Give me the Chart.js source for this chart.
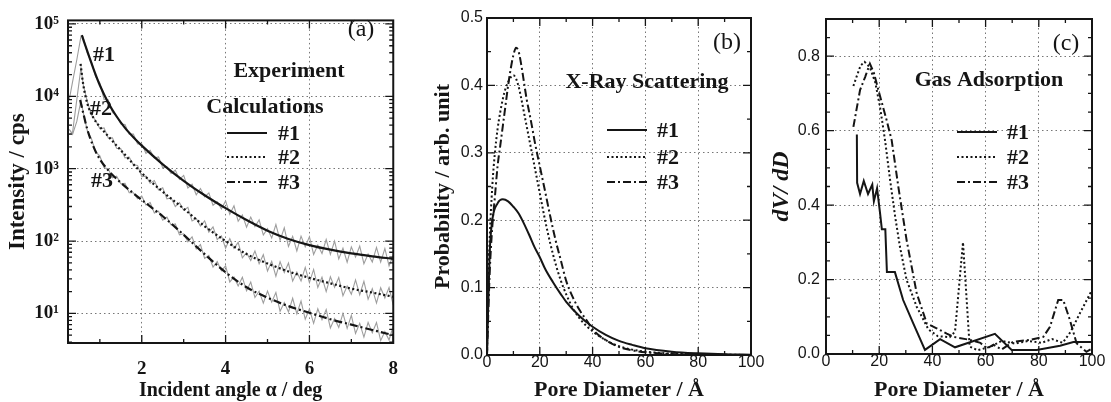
<!DOCTYPE html>
<html>
<head>
<meta charset="utf-8">
<script src="https://cdn.jsdelivr.net/npm/chart.js@4.4.1/dist/chart.umd.min.js"></script>
<style>
  body { margin: 0; background: #fff; }
  #wrap { position: relative; width: 1111px; height: 402px; overflow: hidden; background: #fff; }
  canvas { position: absolute; top: 0; }
</style>
</head>
<body>
<div id="wrap">
  <canvas id="chartA" width="413" height="402" style="left:0"></canvas>
  <canvas id="chartB" width="361" height="402" style="left:405px"></canvas>
  <canvas id="chartC" width="345" height="402" style="left:766px"></canvas>
</div>
<script>
// ---------- (a) X-ray reflectivity ----------
const expAngle = [0.27,0.35,0.45,0.55,0.6,0.7,0.8,0.9,1.0,1.1,1.2,1.3,1.4,1.5,1.6,1.7,1.8,1.9,2.0,2.1,2.2,2.3,2.4,2.5,2.6,2.7,2.8,2.9,3.0,3.1,3.2,3.3,3.4,3.5,3.6,3.7,3.8,3.9,4.0,4.1,4.2,4.3,4.4,4.5,4.6,4.7,4.8,4.9,5.0,5.1,5.2,5.3,5.4,5.5,5.6,5.7,5.8,5.9,6.0,6.1,6.2,6.3,6.4,6.5,6.6,6.7,6.8,6.9,7.0,7.1,7.2,7.3,7.4,7.5,7.6,7.7,7.8,7.9,8.0];
const exp1 = [9000,16000,32000,68000,66700,39700,29600,18700,15300,9060,8950,5970,5370,4140,4070,3000,3020,2190,2190,1630,1790,1400,1450,1030,1060,862,953,711,808,542,609,436,532,409,463,312,348,279,359,235,307,188,230,155,214,159,196,121,148,110,169,102,152,84,116,73,117,83.5,115,65.3,88,67.3,105,65.4,99.8,56.7,79.5,51.1,83.2,60.3,85.1,48.7,66.4,51.4,81.6,51.2,78.9,45.3,64];
const exp2 = [3000,3200,9000,25000,14700,8500,5500,4620,3570,3660,2660,2680,1920,1880,1410,1450,1130,1110,776,790,630,687,507,545,384,395,300,339,266,292,190,205,161,190,133,157,105,118,79.4,108,79.3,95.9,58.5,69.1,54,73,48.6,64.8,38.6,52.4,32.6,51.8,36.6,49.7,27.9,37.2,28,43.2,26.7,40.5,22.8,31.6,20,32.1,22.9,31.4,17.6,23.9,18.4,29,18.1,27.7,15.7,21.9,13.9,22.6,16.3,22.8,13];
const exp3 = [3500,3000,4500,8800,6080,3360,2590,1690,1500,1040,990,749,785,620,626,465,465,385,420,315,340,244,258,194,214,167,172,122,126,97.4,114,77.9,89.2,57.5,63.2,43.7,51.9,39,45.5,27.2,31.9,24,31.5,20.5,27.1,16.6,20.3,13.9,20.3,14.3,19.4,10.7,14.1,10.5,16.2,9.9,14.8,8.3,11.5,7.3,11.6,8.2,11.3,6.3,8.5,6.4,10,6.2,9.4,5.3,7.3,4.7,7.5,5.4,7.5,4.2,5.6,4.3,6.7];
const calcX1 = [0.57,0.7,0.85,1.0,1.2,1.4,1.6,1.8,2.0,2.5,3.0,3.5,4.0,4.5,5.0,5.5,6.0,6.5,7.0,7.5,8.0];
const calcY1 = [70000,42000,23800,14200,8150,5260,3670,2720,2080,1150,680,430,285,195,139,107,88,76,67.5,61.5,56.8];
const calcX2 = [0.54,0.6,0.7,0.85,1.0,1.2,1.5,2.0,2.5,3.0,3.5,4.0,4.5,5.0,5.5,6.0,6.5,7.0,7.5,8.0];
const calcY2 = [28000,15000,8000,5000,3800,2800,1800,870,480,280,160,100,66,49,38,31,26,22,19.4,17];
const calcX3 = [0.53,0.6,0.7,0.85,1.0,1.2,1.5,2.0,2.5,3.0,3.5,4.0,4.5,5.0,5.5,6.0,6.5,7.0,7.5,8.0];
const calcY3 = [8900,6000,3500,2000,1350,950,640,370,220,122,66,37,23,16.5,12.6,10.2,8.3,7.0,5.9,5.0];
const aXTicks = [2,4,6,8];
const aXMinor = [1,3,5,7];
const aYTicks = [10,100,1000,10000,100000];
const aYLabels = ['10¹','10²','10³','10⁴','10⁵'];
const aYMinor = [4,5,6,7,8,9,20,30,40,50,60,70,80,90,200,300,400,500,600,700,800,900,2000,3000,4000,5000,6000,7000,8000,9000,20000,30000,40000,50000,60000,70000,80000,90000];

// ---------- (b) X-ray scattering pore size ----------
const bX1 = [0,1,2,4,6,8,10,12,14,16,18,20,22,25,28,30,35,40,45,50,55,60,70,80,90,100];
const bY1 = [0,0.15,0.2,0.225,0.231,0.228,0.22,0.21,0.195,0.178,0.16,0.145,0.128,0.108,0.09,0.079,0.058,0.042,0.03,0.021,0.015,0.01,0.005,0.0025,0.001,0.0005];
const bX2 = [0,0.5,1,2,3,4,5,6,7,8,9,10,11,12,13,14,15,16,17,18,20,22,24,26,28,30,33,36,40,45,50,55,60,70,80,100];
const bY2 = [0,0.1,0.17,0.25,0.3,0.335,0.36,0.38,0.395,0.405,0.412,0.415,0.41,0.398,0.38,0.36,0.34,0.32,0.3,0.28,0.24,0.2,0.165,0.135,0.11,0.09,0.066,0.05,0.035,0.022,0.013,0.008,0.005,0.002,0.001,0];
const bX3 = [0,1,2,3,4,5,6,7,8,9,10,11,12,13,14,15,16,17,18,20,22,24,26,28,30,32,35,38,40,45,50,55,60,70,80,100];
const bY3 = [0,0.12,0.19,0.235,0.28,0.31,0.34,0.37,0.4,0.425,0.445,0.456,0.45,0.43,0.405,0.38,0.36,0.34,0.318,0.28,0.243,0.205,0.17,0.14,0.11,0.09,0.067,0.05,0.038,0.022,0.012,0.007,0.004,0.0015,0.0006,0];
const bXTicks = [0,20,40,60,80,100];
const bXMinor = [10,30,50,70,90];
const bYTicks = [0,0.1,0.2,0.3,0.4,0.5];
const bYMinor = [0.05,0.15,0.25,0.35,0.45];

// ---------- (c) gas adsorption ----------
const cX1 = [11.6,11.7,12.8,14.2,15.8,17.4,18.0,19.2,20.3,21.0,22.3,22.9,25.9,29.0,32.8,37.2,42.9,48.5,63.5,69.8,79.2,88,93,100];
const cY1 = [0.59,0.46,0.43,0.465,0.43,0.455,0.41,0.445,0.38,0.335,0.335,0.22,0.22,0.145,0.082,0.011,0.04,0.018,0.054,0.011,0.011,0.022,0.032,0.032];
const cX2 = [10.3,11.5,13.0,14.5,16.5,18.5,20.3,22.2,24.1,26.0,27.8,30.3,34.1,38.5,42,46.5,48.5,51.5,54,57,62,66,71,76,81,85,89,92,95.5,100];
const cY2 = [0.72,0.745,0.775,0.785,0.77,0.73,0.664,0.574,0.467,0.369,0.288,0.199,0.127,0.066,0.048,0.045,0.06,0.30,0.02,0.01,0.02,0.035,0.028,0.035,0.03,0.04,0.03,0.06,0.11,0.172];
const cX3 = [10.3,11.3,12.8,14.7,16.5,18.0,19.7,22.8,24.7,27.2,30.3,34.1,37.9,41.6,45.4,48,54,58,60.5,63,66,70.4,76.7,81.7,84.2,87.3,89.2,91.7,94.2,97.9,100];
const cY3 = [0.61,0.65,0.709,0.744,0.78,0.755,0.709,0.628,0.574,0.449,0.306,0.163,0.082,0.069,0.055,0.046,0.038,0.03,0.015,0.025,0.012,0.033,0.038,0.046,0.073,0.145,0.145,0.091,0.029,0.006,0.015];
const cXTicks = [0,20,40,60,80,100];
const cXMinor = [10,30,50,70,90];
const cYTicks = [0,0.2,0.4,0.6,0.8];
const cYMinor = [0.05,0.1,0.15,0.25,0.3,0.35,0.45,0.5,0.55,0.65,0.7,0.75,0.85];

const SERIF = "'Liberation Serif', 'Times New Roman', serif";
const SANS = "'Liberation Sans', Arial, sans-serif";
const INK = '#151515';
const DOT = [2, 2.5];
const DASHDOT = [8, 3, 2, 3];

const toXY = (xs, ys) => xs.map((x, i) => ({ x: x, y: ys[i] }));

// frame, inward tick marks, labels and key, drawn on top of each chart
function makeFrame(o) {
  return {
    id: 'frame',
    afterDraw(chart) {
      const ctx = chart.ctx;
      const a = chart.chartArea;
      const sx = chart.scales.x, sy = chart.scales.y;
      ctx.save();
      ctx.setLineDash([]);
      ctx.strokeStyle = INK;
      ctx.lineWidth = 2;
      ctx.strokeRect(a.left, a.top, a.right - a.left, a.bottom - a.top);
      ctx.lineWidth = 1.3;
      ctx.beginPath();
      const put = (vals, len, horiz) => vals.forEach(v => {
        if (horiz) {
          const p = sx.getPixelForValue(v);
          ctx.moveTo(p, a.bottom); ctx.lineTo(p, a.bottom - len);
          ctx.moveTo(p, a.top); ctx.lineTo(p, a.top + len);
        } else {
          const p = sy.getPixelForValue(v);
          ctx.moveTo(a.left, p); ctx.lineTo(a.left + len, p);
          ctx.moveTo(a.right, p); ctx.lineTo(a.right - len, p);
        }
      });
      put(o.xMajor, 8, true); put(o.xMinor, 4, true);
      put(o.yMajor, 8, false); put(o.yMinor, 4, false);
      ctx.stroke();

      ctx.fillStyle = INK;
      ctx.textBaseline = 'middle';
      o.notes.forEach(n => {
        ctx.font = n.font;
        ctx.textAlign = 'center';
        ctx.fillText(n.text, n.x, n.y);
      });
      o.keys.forEach(k => {
        ctx.beginPath();
        ctx.setLineDash(k.dash);
        ctx.lineWidth = 2;
        ctx.moveTo(k.x0, k.y); ctx.lineTo(k.x1, k.y);
        ctx.stroke();
        ctx.setLineDash([]);
        ctx.font = k.font;
        ctx.textAlign = 'left';
        ctx.fillText(k.label, k.lx, k.y + 1);
      });
      ctx.restore();
    }
  };
}

function gridOpts() {
  return { drawTicks: false, color: '#666', lineWidth: 0.9 };
}

function fixedTicks(list) {
  return function (scale) {
    scale.ticks = list.map(v => ({ value: v }));
  };
}

function baseOptions() {
  return {
    responsive: false,
    animation: false,
    events: [],
    plugins: { legend: { display: false }, tooltip: { enabled: false } }
  };
}

const calcStyle = { showLine: true, pointRadius: 0, borderColor: INK, borderWidth: 2.2, cubicInterpolationMode: 'monotone', fill: false };
const expStyle = { showLine: true, pointRadius: 0, borderColor: '#9d9d9d', borderWidth: 1.1, tension: 0, fill: false };
const plainStyle = { showLine: true, pointRadius: 0, borderColor: INK, borderWidth: 2, fill: false };

const fb = 'bold 22px ' + SERIF;
const fp = '24px ' + SERIF;

// ---------- chart (a) ----------
const optA = baseOptions();
optA.layout = { padding: { left: 0, right: 11, top: 17.5, bottom: 0 } };
optA.scales = {
  x: {
    type: 'linear', min: 0.24, max: 8,
    afterBuildTicks: fixedTicks(aXTicks),
    afterFit: s => { s.height = 59; },
    grid: gridOpts(),
    border: { display: false, dash: [1.5, 3] },
    ticks: { padding: 15, color: INK, maxRotation: 0, font: { family: SERIF, weight: 'bold', size: 19 } },
    title: { display: true, text: 'Incident angle α / deg', color: INK, padding: { top: 0, bottom: 1 },
             font: { family: SERIF, weight: 'bold', size: 20, lineHeight: 1 } }
  },
  y: {
    type: 'logarithmic', min: 3.9, max: 112000,
    afterBuildTicks: fixedTicks(aYTicks),
    afterFit: s => { s.width = 68; },
    grid: gridOpts(),
    border: { display: false, dash: [1.5, 3] },
    ticks: { padding: 9, color: INK, font: { family: SERIF, weight: 'bold', size: 19 },
             callback: (v, i) => aYLabels[i] },
    title: { display: true, text: 'Intensity / cps', color: INK, padding: { top: 6.5 },
             font: { family: SERIF, weight: 'bold', size: 23, lineHeight: 1 } }
  }
};

new Chart(document.getElementById('chartA'), {
  type: 'scatter',
  data: {
    datasets: [
      Object.assign({ label: 'Calc #1', data: toXY(calcX1, calcY1), borderDash: [] }, calcStyle),
      Object.assign({ label: 'Calc #2', data: toXY(calcX2, calcY2), borderDash: DOT }, calcStyle),
      Object.assign({ label: 'Calc #3', data: toXY(calcX3, calcY3), borderDash: DASHDOT }, calcStyle),
      Object.assign({ label: 'Exp #1', data: toXY(expAngle, exp1) }, expStyle),
      Object.assign({ label: 'Exp #2', data: toXY(expAngle, exp2) }, expStyle),
      Object.assign({ label: 'Exp #3', data: toXY(expAngle, exp3) }, expStyle)
    ]
  },
  options: optA,
  plugins: [makeFrame({
    xMajor: aXTicks, xMinor: aXMinor, yMajor: aYTicks, yMinor: aYMinor,
    notes: [
      { text: '(a)', x: 361, y: 30, font: fp },
      { text: 'Experiment', x: 289, y: 71, font: fb },
      { text: 'Calculations', x: 265, y: 107, font: fb },
      { text: '#1', x: 104, y: 55, font: fb },
      { text: '#2', x: 101, y: 109, font: fb },
      { text: '#3', x: 102, y: 181, font: fb }
    ],
    keys: [
      { label: '#1', y: 133, x0: 227, x1: 267, lx: 278, dash: [], font: fb },
      { label: '#2', y: 157, x0: 227, x1: 267, lx: 278, dash: DOT, font: fb },
      { label: '#3', y: 182, x0: 227, x1: 267, lx: 278, dash: DASHDOT, font: fb }
    ]
  })]
});

// ---------- charts (b) and (c) share the same look ----------
function poreOptions(cfg) {
  const o = baseOptions();
  o.layout = { padding: { left: 0, right: cfg.padRight, top: cfg.top, bottom: 0 } };
  o.scales = {
    x: {
      type: 'linear', min: 0, max: 100,
      afterBuildTicks: fixedTicks(cfg.xTicks),
      afterFit: s => { s.height = cfg.xHeight; },
      grid: gridOpts(),
      border: { display: false, dash: [1.5, 3] },
      ticks: { padding: 0, color: INK, maxRotation: 0, font: { family: SANS, size: 16, lineHeight: 1 } },
      title: { display: true, text: 'Pore Diameter / Å', color: INK, padding: { top: 0, bottom: 1 },
               font: { family: SERIF, weight: 'bold', size: 22, lineHeight: 1 } }
    },
    y: {
      type: 'linear', min: 0, max: cfg.yMax,
      afterBuildTicks: fixedTicks(cfg.yTicks),
      afterFit: s => { s.width = cfg.yWidth; },
      grid: gridOpts(),
      border: { display: false, dash: [1.5, 3] },
      ticks: { padding: cfg.yPad, color: INK, font: { family: SANS, size: 16 }, callback: v => v.toFixed(1) },
      title: { display: true, text: cfg.yTitle, color: INK, padding: { top: cfg.yTitlePad },
               font: { family: SERIF, weight: 'bold', style: cfg.yStyle, size: cfg.yTitleSize, lineHeight: 1 } }
    }
  };
  return o;
}

new Chart(document.getElementById('chartB'), {
  type: 'scatter',
  data: {
    datasets: [
      Object.assign({ label: '#1', data: toXY(bX1, bY1), borderDash: [], cubicInterpolationMode: 'monotone' }, plainStyle),
      Object.assign({ label: '#2', data: toXY(bX2, bY2), borderDash: DOT, cubicInterpolationMode: 'monotone' }, plainStyle),
      Object.assign({ label: '#3', data: toXY(bX3, bY3), borderDash: DASHDOT, cubicInterpolationMode: 'monotone' }, plainStyle)
    ]
  },
  options: poreOptions({
    padRight: 15, top: 18, xHeight: 47, yWidth: 82, yMax: 0.5, yPad: 4,
    xTicks: bXTicks, yTicks: bYTicks,
    yTitle: 'Probability / arb. unit', yStyle: 'normal', yTitleSize: 22, yTitlePad: 27
  }),
  plugins: [makeFrame({
    xMajor: bXTicks, xMinor: bXMinor, yMajor: bYTicks, yMinor: bYMinor,
    notes: [
      { text: '(b)', x: 322, y: 43, font: fp },
      { text: 'X-Ray Scattering', x: 242, y: 82, font: fb }
    ],
    keys: [
      { label: '#1', y: 130, x0: 202, x1: 242, lx: 252, dash: [], font: fb },
      { label: '#2', y: 157, x0: 202, x1: 242, lx: 252, dash: DOT, font: fb },
      { label: '#3', y: 182, x0: 202, x1: 242, lx: 252, dash: DASHDOT, font: fb }
    ]
  })]
});

new Chart(document.getElementById('chartC'), {
  type: 'scatter',
  data: {
    datasets: [
      Object.assign({ label: '#1', data: toXY(cX1, cY1), borderDash: [], tension: 0 }, plainStyle),
      Object.assign({ label: '#2', data: toXY(cX2, cY2), borderDash: DOT, tension: 0 }, plainStyle),
      Object.assign({ label: '#3', data: toXY(cX3, cY3), borderDash: DASHDOT, tension: 0 }, plainStyle)
    ]
  },
  options: poreOptions({
    padRight: 19, top: 19, xHeight: 48, yWidth: 60, yMax: 0.9, yPad: 6,
    xTicks: cXTicks, yTicks: cYTicks,
    yTitle: 'dV/ dD', yStyle: 'italic', yTitleSize: 24, yTitlePad: 4
  }),
  plugins: [makeFrame({
    xMajor: cXTicks, xMinor: cXMinor, yMajor: cYTicks, yMinor: cYMinor,
    notes: [
      { text: '(c)', x: 300, y: 44, font: fp },
      { text: 'Gas Adsorption', x: 223, y: 80, font: fb }
    ],
    keys: [
      { label: '#1', y: 132, x0: 191, x1: 231, lx: 241, dash: [], font: fb },
      { label: '#2', y: 157, x0: 191, x1: 231, lx: 241, dash: DOT, font: fb },
      { label: '#3', y: 182, x0: 191, x1: 231, lx: 241, dash: DASHDOT, font: fb }
    ]
  })]
});
</script>
</body>
</html>
